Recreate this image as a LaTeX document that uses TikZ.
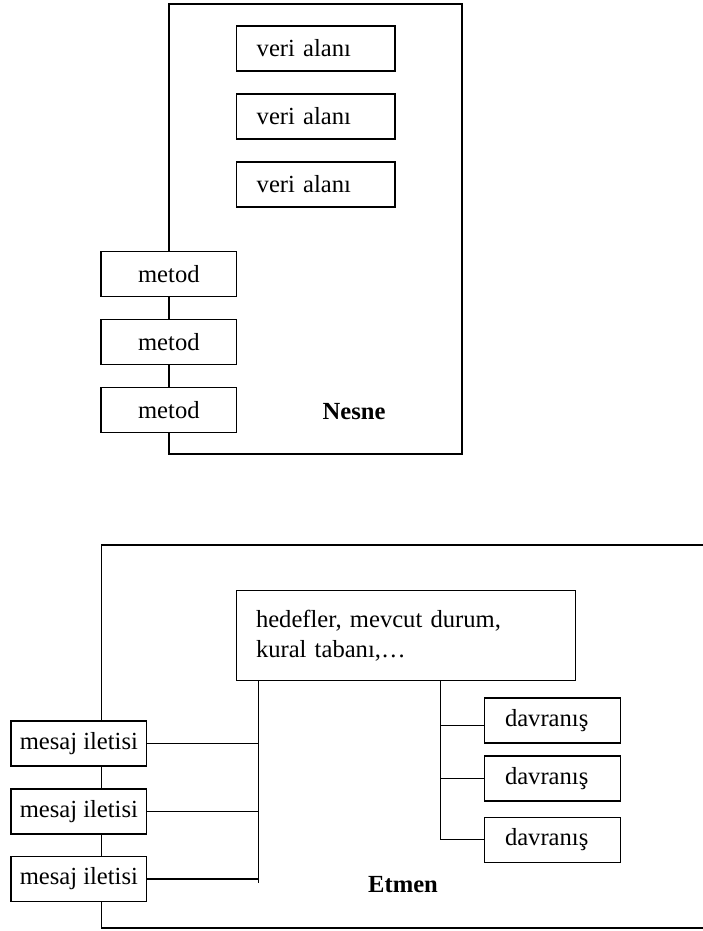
\documentclass[tikz,border=0pt]{standalone}
\usepackage{fontspec}
\setmainfont{Liberation Serif}
\usetikzlibrary{calc}
\begin{document}
\begin{tikzpicture}[x=0.5pt,y=-0.5pt,line width=0.7pt,
  every node/.style={font=\fontsize{12.3}{15}\selectfont},
  box/.style={draw,fill=white,inner sep=0pt,minimum height=22.5pt},
  fieldbox/.style={box,minimum width=79.15pt,text width=59.15pt,align=left},
  methodbox/.style={box,minimum width=67.85pt},
  msgbox/.style={box,minimum width=67.85pt,minimum height=22.65pt},
  actbox/.style={box,minimum width=68.2pt,text width=47.5pt,align=left},
  kbbox/.style={box,minimum width=169.45pt,minimum height=45.2pt,text width=149.85pt,align=left},
  title/.style={font=\fontsize{12.3}{15}\selectfont\bfseries}]
\useasboundingbox (0,0) rectangle (702,931);

% ---- object: frame, data fields, methods
\node[draw,inner sep=0pt,minimum width=146.5pt,minimum height=225pt] (nesne) at (315.5,229) {};
\node[fieldbox] (f1) at (315.85,48.5) {veri alanı};
\node[fieldbox] (f2) at (315.85,116.5) {veri alanı};
\node[fieldbox] (f3) at (315.85,184.5) {veri alanı};
\node[methodbox] (m1) at (168.85,274.2) {metod};
\node[methodbox] (m2) at (168.85,342) {metod};
\node[methodbox] (m3) at (168.85,409.7) {metod};
\node[title] (nesneLbl) at (354,412) {Nesne};

% ---- agent: open frame
\coordinate (etr) at (704,545);
\coordinate (etl) at (101.5,545);
\coordinate (ebl) at (101.5,928);
\coordinate (ebr) at (704,928);
\draw (etr) -- (etl) -- (ebl) -- (ebr);

\node[kbbox] (kb) at (405.85,635.5) {hedefler, mevcut durum,\\kural tabanı,…};
\node[msgbox] (g1) at (78.85,743.5) {mesaj iletisi};
\node[msgbox] (g2) at (78.85,811.5) {mesaj iletisi};
\node[msgbox] (g3) at (78.85,879) {mesaj iletisi};
\node[actbox] (a1) at (552.5,720.5) {davranış};
\node[actbox] (a2) at (552.5,778.5) {davranış};
\node[actbox] (a3) at (552.5,839.7) {davranış};
\node[title] (etmenLbl) at (403,885) {Etmen};

% message bus on the left of the knowledge box
\coordinate (busL) at ($(kb.south west)+(22.9,0)$);
\coordinate (busLend) at (busL |- 0,883.3);
\draw (busL) -- (busLend);
\draw (g1.east) -- (g1.east -| busL);
\draw (g2.east) -- (g2.east -| busL);
\draw (g3.east) -- (g3.east -| busL);

% behaviour bus on the right
\coordinate (busR) at (440.7,0 |- kb.south);
\draw (busR) -- (busR |- a3.west) -- (a3.west);
\draw ([yshift=-2.6pt]a1.west) -- ([yshift=-2.6pt]a1.west -| busR);
\draw (a2.west) -- (a2.west -| busR);
\end{tikzpicture}
\end{document}
